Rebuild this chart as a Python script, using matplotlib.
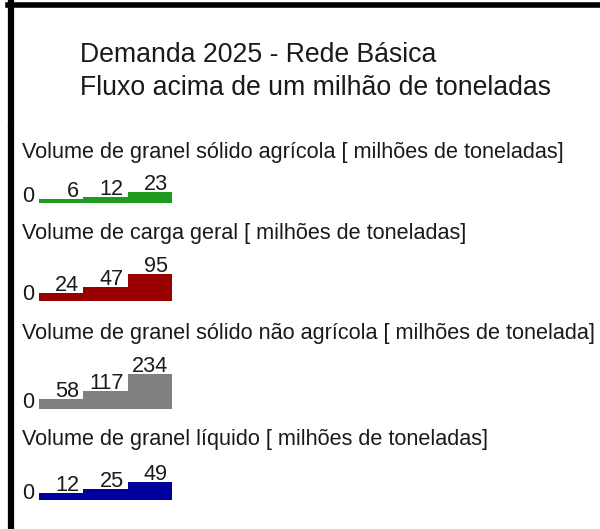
import matplotlib
matplotlib.use("Agg")
import matplotlib.pyplot as plt
from matplotlib.lines import Line2D

plt.rcParams['font.family'] = ['Liberation Sans', 'DejaVu Sans']

W, H = 600, 529

# data
title_lines = ["Demanda 2025 - Rede Básica", "Fluxo acima de um milhão de toneladas"]
labels = [
    "Volume de granel sólido agrícola [ milhões de toneladas]",
    "Volume de carga geral [ milhões de toneladas]",
    "Volume de granel sólido não agrícola [ milhões de tonelada]",
    "Volume de granel líquido [ milhões de toneladas]",
]
agricola = [6, 12, 23]
carga_geral = [24, 47, 95]
nao_agricola = [58, 117, 234]
liquido = [12, 25, 49]
series = [agricola, carga_geral, nao_agricola, liquido]
colors = ["#1f9a1f", "#990000", "#808080", "#00009c"]

# layout (pixels from top)
label_y = [152, 233, 333, 440]
bar_bottom = [203, 301, 409, 500]
px_per_unit = [0.41, 0.268, 0.142, 0.305]
px_offset = [1.5, 1.6, 1.8, 3.3]

fig = plt.figure(figsize=(W / 100, H / 100), dpi=100)
fig.patch.set_facecolor("white")


def fx(px):
    return px / W


def fy(py):
    return 1 - py / H


# frame lines
fig.add_artist(Line2D([fx(8), fx(600)], [fy(5), fy(5)], color="black", lw=4))
fig.add_artist(Line2D([fx(10.5), fx(10.5)], [fy(3), fy(124)], color="black", lw=4.5))
fig.add_artist(Line2D([fx(10.5), fx(10.5)], [fy(129), fy(529)], color="black", lw=4.5))

# title
fig.text(fx(80), fy(55), title_lines[0], fontsize=19.2, color="#1a1a1a", va="center")
fig.text(fx(80), fy(88), title_lines[1], fontsize=19.2, color="#1a1a1a", va="center")

axh = 45
for i, vals in enumerate(series):
    fig.text(fx(22), fy(label_y[i]), labels[i], fontsize=15.6, color="#1a1a1a", va="center")

    ax = fig.add_axes([fx(39), fy(bar_bottom[i]), fx(133), axh / H])
    ax.set_axis_off()
    ppu = px_per_unit[i]
    base = -px_offset[i] / ppu
    ax.set_xlim(0, 3)
    ax.set_ylim(base, base + axh / ppu)
    xs = list(range(len(vals)))
    ax.bar(xs, [v - base for v in vals], bottom=base, width=1.0, align="edge",
           color=colors[i], edgecolor="none")
    for x, v in zip(xs, vals):
        ax.annotate(str(v), xy=(x + 1, v), xytext=(-4, 2), textcoords="offset pixels",
                    ha="right", va="baseline", fontsize=15.6, color="#1a1a1a",
                    annotation_clip=False)
    ax.annotate("0", xy=(0, base), xytext=(-5, 1), textcoords="offset pixels",
                ha="right", va="baseline", fontsize=15.6, color="#1a1a1a",
                annotation_clip=False)

fig.savefig("out.png", dpi=100, facecolor="white")
